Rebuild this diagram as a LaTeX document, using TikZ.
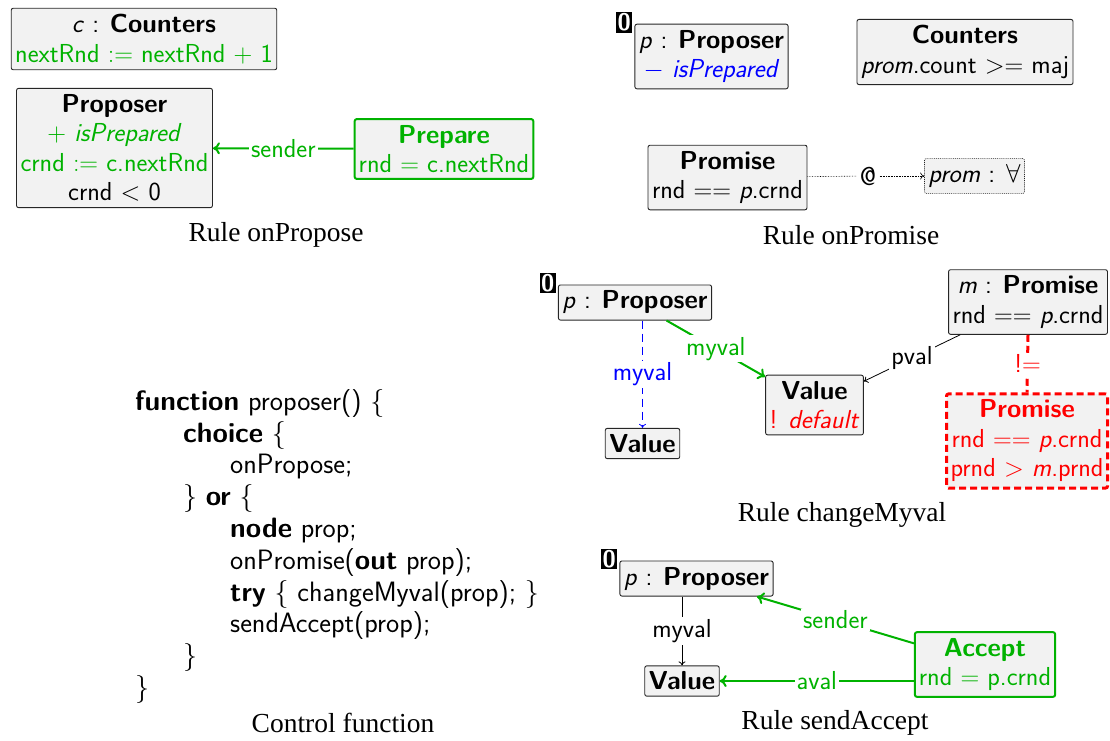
\RequirePackage{fix-cm}
\documentclass[tikz,border=0pt]{standalone}
\usepackage{fontspec}
\newfontfamily\capfont{Liberation Serif}
\usetikzlibrary{arrows.meta}
\definecolor{mygreen}{RGB}{0,178,0}
\definecolor{boxfill}{RGB}{242,242,242}
\definecolor{myblue}{RGB}{0,0,255}
\definecolor{myred}{RGB}{255,0,0}
\newcommand\boxfont{\sffamily\fontsize{26}{29.5}\selectfont}
\newcommand\codefont{\sffamily\fontsize{28}{31.8}\selectfont}
\newcommand\tagfont{\sffamily\bfseries\fontsize{24}{24}\selectfont}
\tikzset{
 obj/.style={draw=black!85, fill=boxfill, rounded corners=2pt, align=center, font=\boxfont, inner xsep=4pt, inner ysep=6pt, line width=0.9pt},
 gobj/.style={obj, draw=mygreen, line width=2pt, text=mygreen},
 robj/.style={obj, draw=myred, line width=3pt, dash pattern=on 7pt off 4pt, text=myred},
 tagbox/.style={fill=black, text=white, font=\tagfont, inner xsep=1.5pt, inner ysep=1.5pt, anchor=north east},
 capt/.style={font=\capfont\fontsize{27.5}{30}\selectfont},
 garrow/.style={draw=mygreen, line width=2pt, -{To[length=7pt,width=12pt]}},
 barrow/.style={draw=black, line width=0.8pt, -{To[length=4pt,width=7pt]}},
 elabel/.style={fill=white, inner sep=2pt, font=\boxfont},
}
\begin{document}
\begin{tikzpicture}[x=1pt,y=-1pt]
\useasboundingbox (0,0) rectangle (1110,740);
% ---- Rule onPropose
\node[obj] (cnt1) at (144,39) {\textit{c} : \textbf{Counters}\\ \textcolor{mygreen}{nextRnd $:=$ nextRnd $+$ 1}};
\node[obj] (prop1) at (114.5,148) {\textbf{Proposer}\\ \textcolor{mygreen}{$+$ \textit{isPrepared}}\\ \textcolor{mygreen}{crnd $:=$ c.nextRnd}\\ crnd $<$ 0};
\node[gobj] (prep) at (444,149) {\textbf{Prepare}\\ rnd $=$ c.nextRnd};
\draw[garrow] (prep) -- node[elabel, text=mygreen]{sender} (prop1);
\node[capt] (c1) at (276,235) {Rule onPropose};
% ---- Rule onPromise
\node[obj] (p2) at (711.5,56.5) {\textit{p} : \textbf{Proposer}\\ \textcolor{myblue}{$-$ \textit{isPrepared}}};
\node[tagbox] (t2) at ([xshift=-2pt,yshift=12pt]p2.north west) {0};
\node[obj] (cnt2) at (965,52) {\textbf{Counters}\\ \textit{prom}.count $>=$ maj};
\node[obj] (prom2) at (727.5,177.5) {\textbf{Promise}\\ rnd $==$ \textit{p}.crnd};
\node[font=\boxfont] (at2) at (868,176) {@};
\node[obj, densely dotted, line width=0.6pt] (all2) at (974.5,176) {\textit{prom} : $\forall$};
\draw[densely dotted, line width=0.6pt] (prom2) -- (at2);
\draw[densely dotted, line width=0.6pt, -{To[length=4pt,width=7pt]}] (at2) -- (all2);
\node[capt] (c2) at (851,235) {Rule onPromise};
% ---- Rule changeMyval
\node[obj] (p3) at (635,302.5) {\textit{p} : \textbf{Proposer}};
\node[tagbox] (t3) at ([xshift=-2pt,yshift=12pt]p3.north west) {0};
\node[obj] (v3a) at (642.5,443.5) {\textbf{Value}};
\node[obj] (v3b) at (814.5,405) {\textbf{Value}\\ \textcolor{myred}{! \textit{default}}};
\node[obj] (m3) at (1028,302) {\textit{m} : \textbf{Promise}\\ rnd $==$ \textit{p}.crnd};
\node[robj] (r3) at (1027,441) {\textbf{Promise}\\ rnd $==$ \textit{p}.crnd\\ prnd $>$ \textit{m}.prnd};
\draw[myblue, line width=0.8pt, dash pattern=on 8pt off 5pt, -{To[length=4pt,width=7pt]}] (p3.south -| v3a.north) -- node[elabel, text=myblue]{myval} (v3a.north);
\draw[garrow] (p3) -- node[elabel, text=mygreen]{myval} (v3b);
\draw[barrow] (m3) -- node[elabel]{pval} (v3b);
\draw[myred, line width=3pt, dash pattern=on 7pt off 4pt] (m3.south) -- node[elabel, text=myred]{!$=$} (r3.north);
\node[capt] (c3) at (842,515) {Rule changeMyval};
% ---- Rule sendAccept
\node[obj] (p4) at (696.5,578.5) {\textit{p} : \textbf{Proposer}};
\node[tagbox] (t4) at ([xshift=-2pt,yshift=12pt]p4.north west) {0};
\node[obj] (v4) at (682,681) {\textbf{Value}};
\node[gobj] (acc) at (985,664.5) {\textbf{Accept}\\ rnd $=$ p.crnd};
\draw[barrow] (p4.south -| v4.north) -- node[elabel]{myval} (v4.north);
\draw[garrow] (acc) -- node[elabel, text=mygreen]{sender} (p4);
\draw[garrow] (acc.west |- v4.east) -- node[elabel, text=mygreen]{aval} (v4.east);
\node[capt] (c4) at (835,723) {Rule sendAccept};
% ---- Control function
\node[font=\codefont, align=left, anchor=north west, inner sep=0pt] (code) at (135,389) {%
\textbf{function} proposer() $\{$\\
\hspace*{48pt}\textbf{choice} $\{$\\
\hspace*{95pt}onPropose;\\
\hspace*{48pt}$\}$ \textbf{or} $\{$\\
\hspace*{95pt}\textbf{node} prop;\\
\hspace*{95pt}onPromise(\textbf{out} prop);\\
\hspace*{95pt}\textbf{try} $\{$ changeMyval(prop); $\}$\\
\hspace*{95pt}sendAccept(prop);\\
\hspace*{48pt}$\}$\\
$\}$};
\node[capt] (c5) at (343,723) {Control function};
\end{tikzpicture}
\end{document}
